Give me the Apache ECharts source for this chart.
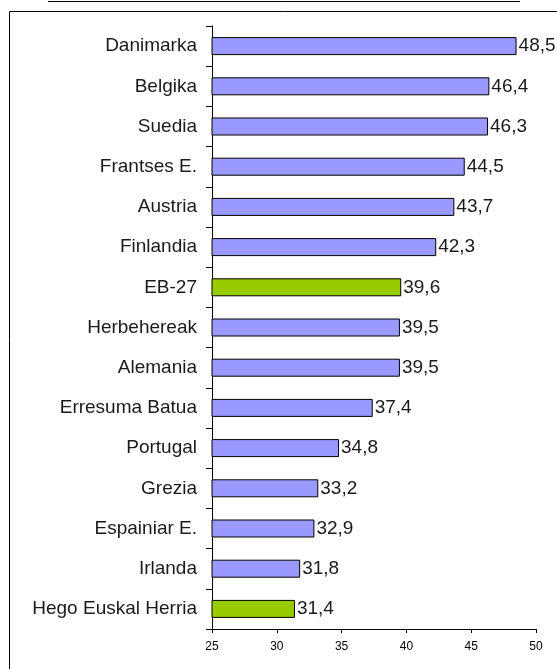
<!DOCTYPE html>
<html><head><meta charset="utf-8">
<script src="https://cdn.jsdelivr.net/npm/echarts@6/dist/echarts.min.js"></script>
<style>html,body{margin:0;padding:0;background:#fff}#c{width:557px;height:669px}</style>
</head><body><div id="c"></div>
<script>
const categories = ["Danimarka","Belgika","Suedia","Frantses E.","Austria","Finlandia","EB-27","Herbehereak","Alemania","Erresuma Batua","Portugal","Grezia","Espainiar E.","Irlanda","Hego Euskal Herria"];
const values = [48.5,46.4,46.3,44.5,43.7,42.3,39.6,39.5,39.5,37.4,34.8,33.2,32.9,31.8,31.4];
const highlighted = ["EB-27","Hego Euskal Herria"];
const xTicks = [25,30,35,40,45,50];

const chart = echarts.init(document.getElementById('c'));
const font = 'Liberation Sans, Arial, sans-serif';
chart.setOption({
  animation:false,
  grid:{left:212,right:21,top:26,bottom:40,containLabel:false},
  graphic:[
    {type:'line',shape:{x1:48,y1:1.5,x2:520,y2:1.5},style:{stroke:'#000',lineWidth:1}},
    {type:'rect',shape:{x:9.5,y:11.5,width:560,height:680},style:{fill:'none',stroke:'#000',lineWidth:1}}
  ],
  xAxis:{type:'value',min:xTicks[0],max:xTicks[xTicks.length-1],interval:5,
    axisLine:{show:true,lineStyle:{color:'#000'}},
    axisTick:{show:true,length:4,lineStyle:{color:'#000'}},
    axisLabel:{color:'#000',fontSize:12,fontFamily:font,margin:12,formatter:v=>String(v)},
    splitLine:{show:false}},
  yAxis:{type:'category',data:categories,inverse:true,
    axisLine:{show:true,lineStyle:{color:'#000'}},
    axisTick:{show:true,length:6,interval:0,lineStyle:{color:'#000'}},
    axisLabel:{color:'#1a1a1a',fontSize:19,fontFamily:font,margin:15}},
  series:[{type:'bar',barWidth:18,
    data:values.map((v,i)=>({value:v,itemStyle:{color:highlighted.includes(categories[i])?'#99CC00':'#9999FF'}})),
    itemStyle:{borderColor:'#000',borderWidth:1},
    label:{show:true,position:'right',distance:2,color:'#1a1a1a',fontSize:19,fontFamily:font,
      formatter:p=>p.value.toFixed(1).replace('.',',')}}]
});
</script></body></html>
